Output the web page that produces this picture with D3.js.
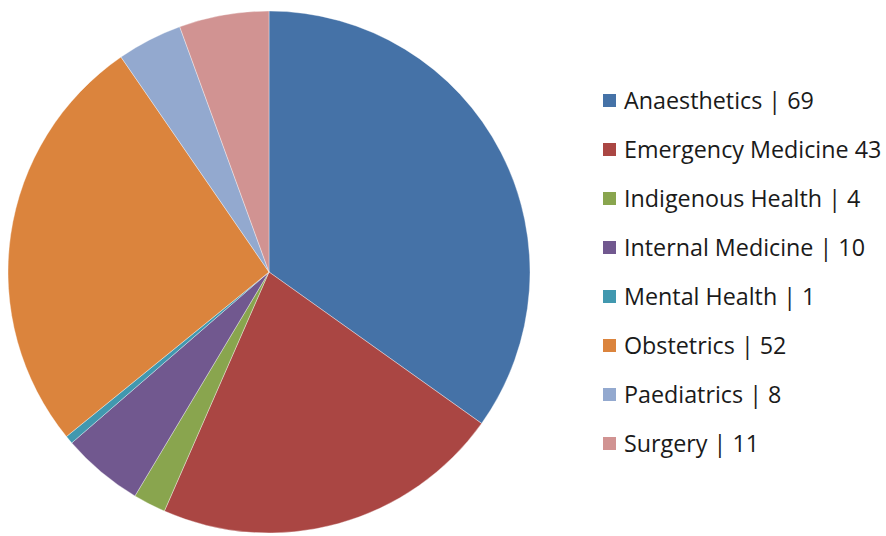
<!DOCTYPE html>
<html><head><meta charset="utf-8">
<script src="https://cdn.jsdelivr.net/npm/d3@7"></script>
<style>html,body{margin:0;padding:0;background:#fff;}svg{display:block;}</style>
</head><body>
<svg id="c" width="886" height="536"></svg>
<script>
const categories = ["Anaesthetics", "Emergency Medicine", "Indigenous Health", "Internal Medicine", "Mental Health", "Obstetrics", "Paediatrics", "Surgery"];
const values = [69, 43, 4, 10, 1, 52, 8, 11];
const legendLabels = ["Anaesthetics | 69", "Emergency Medicine 43", "Indigenous Health | 4", "Internal Medicine | 10", "Mental Health | 1", "Obstetrics | 52", "Paediatrics | 8", "Surgery | 11"];
const colors = ["#4572A7", "#AA4643", "#89A54E", "#71588F", "#4198AF", "#DB843D", "#93A9CF", "#D19392"];

const svg = d3.select("#c");
const cx = 269, cy = 272, r = 261;
const pie = d3.pie().sort(null).value(d => d.v);
const arc = d3.arc().innerRadius(0).outerRadius(r);
const data = categories.map((c, i) => ({c, v: values[i]}));
const color = d3.scaleOrdinal().domain(categories).range(colors);

svg.append("g").attr("transform", `translate(${cx},${cy})`)
  .selectAll("path").data(pie(data)).join("path")
  .attr("d", arc).attr("fill", d => color(d.data.c))
  .attr("stroke", "#ffffff").attr("stroke-width", 0.6).attr("stroke-opacity", 0.6);

const lg = svg.append("g");
const y = d3.scalePoint().domain(categories).range([101, 444]);
const rows = lg.selectAll("g").data(categories).join("g")
  .attr("transform", d => `translate(0,${y(d)})`);
rows.append("rect").attr("x", 603).attr("y", -7).attr("width", 13).attr("height", 13)
  .attr("fill", d => color(d));
rows.append("text").attr("x", 624).attr("y", 0).attr("dy", "0.36em")
  .attr("font-family", "'Open Sans', sans-serif").attr("font-size", 23.3)
  .attr("fill", "#1a1a1a").text((d, i) => legendLabels[i]);
</script>
</body></html>
